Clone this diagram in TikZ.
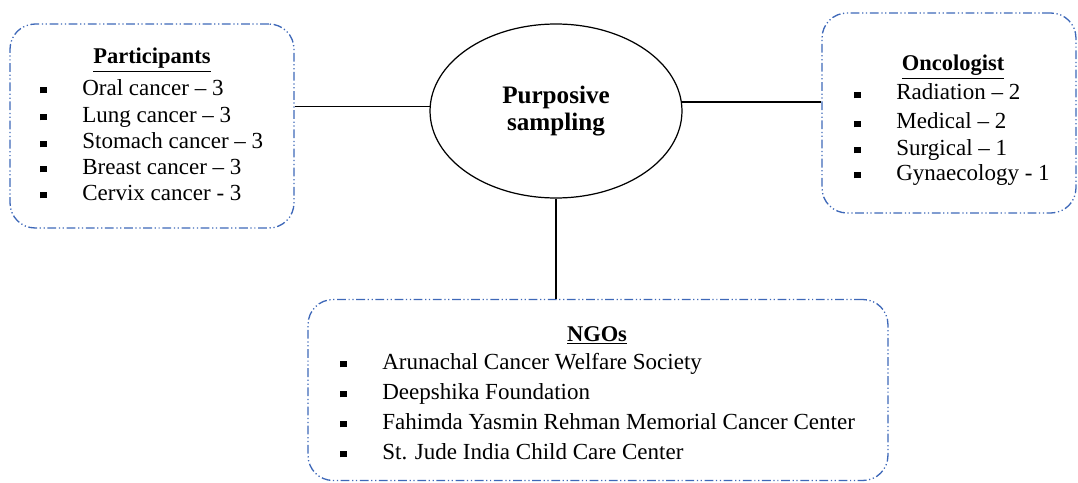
\documentclass[tikz,border=0pt]{standalone}
\usepackage{fontspec}
\setmainfont{Liberation Serif}
\usetikzlibrary{shapes.geometric}
\definecolor{boxblue}{RGB}{62,104,184}
\newcommand{\blt}{\makebox[0.84cm][l]{\rule[0.035cm]{0.13cm}{0.13cm}}}

\begin{document}
\begin{tikzpicture}[x=0.02cm, y=-0.02cm,
    grpbox/.style={draw=boxblue, line width=0.75pt, rounded corners=0.5cm,
        dash pattern=on 5pt off 1.5pt on 0.7pt off 1.5pt on 0.7pt off 1.5pt},
    grptitle/.style={anchor=base, font=\fontsize{12.8}{15}\selectfont\bfseries},
    grpitem/.style={anchor=base west, inner sep=0pt, font=\fontsize{13.1}{15}\selectfont},
    link/.style={draw, line width=0.8pt}]
    \useasboundingbox (0,0) rectangle (1078,483);
    % centre
    \node[draw, ellipse, line width=0.7pt, inner sep=0pt, minimum width=5.04cm, minimum height=3.48cm,
        align=center, font=\fontsize{14.3}{15.4}\selectfont\bfseries] (samp) at (556,111) {Purposive\\sampling};
    % participants
    \node[grpbox, minimum width=5.68cm, minimum height=4.08cm] (part) at (152,126) {};
    \node[grptitle] (parttitle) at (152,64) {\underline{Participants}};
    \node[grpitem] (p1) at (40,95) {\blt Oral cancer -- 3};
    \node[grpitem] (p2) at (40,122) {\blt Lung cancer -- 3};
    \node[grpitem] (p3) at (40,149) {\blt Stomach cancer -- 3};
    \node[grpitem] (p4) at (40,174) {\blt Breast cancer -- 3};
    \node[grpitem] (p5) at (40,200) {\blt Cervix cancer - 3};
    % oncologist
    \node[grpbox, minimum width=5.08cm, minimum height=4.0cm] (onco) at (949,113) {};
    \node[grptitle] (oncotitle) at (953,71) {\underline{Oncologist}};
    \node[grpitem] (o1) at (854,100) {\blt Radiation -- 2};
    \node[grpitem] (o2) at (854,129) {\blt Medical -- 2};
    \node[grpitem] (o3) at (854,155) {\blt Surgical -- 1};
    \node[grpitem] (o4) at (854,180) {\blt Gynaecology - 1};
    % ngos
    \node[grpbox, minimum width=11.6cm, minimum height=3.62cm] (ngo) at (598,390) {};
    \node[grptitle] (ngotitle) at (597,341) {\underline{NGOs}};
    \node[grpitem] (n1) at (340,369) {\blt Arunachal Cancer Welfare Society};
    \node[grpitem] (n2) at (340,399) {\blt Deepshika Foundation};
    \node[grpitem] (n3) at (340,429) {\blt Fahimda Yasmin Rehman Memorial Cancer Center};
    \node[grpitem] (n4) at (340,459) {\blt St. Jude India Child Care Center};
    % links
    \draw[link] (part.east |- samp.178) -- (samp.178);
    \draw[link] (samp.4) -- (onco.west |- samp.4);
    \draw[link] (samp.south) -- (ngo.north -| samp.south);
\end{tikzpicture}
\end{document}
